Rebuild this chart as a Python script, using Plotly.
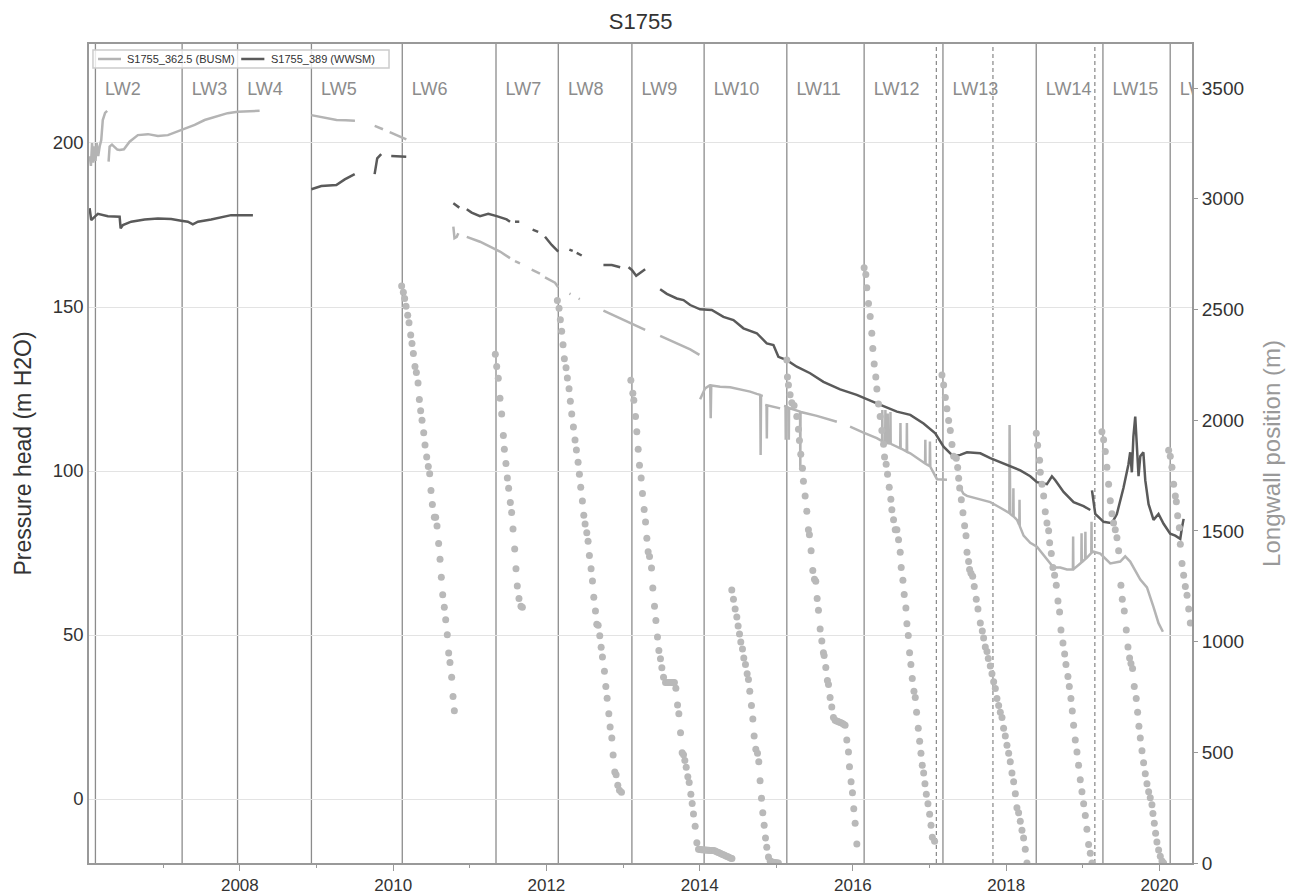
import datetime as dt
import plotly.graph_objects as go

# ---------------------------------------------------------------- data
# Piezometer S1755: pressure head (m H2O), time in decimal years, None = gap
BUSM_T = [2006.04, 2006.055, 2006.07, 2006.085, 2006.10, 2006.115, 2006.13, 2006.15, 2006.17, 2006.19,
          2006.21, 2006.24, 2006.267, None,
          2006.286, 2006.299, 2006.33, 2006.364, 2006.40, 2006.43, 2006.486, 2006.56, 2006.668, 2006.8,
          2006.93, 2007.06, 2007.17, 2007.256, 2007.41, 2007.54, 2007.67, 2007.84, 2007.97, 2008.10,
          2008.257, None,
          2008.93, 2009.06, 2009.26, 2009.38, 2009.50, None,
          2009.758, 2009.866, None, 2009.954, 2010.171, None,
          2010.785, 2010.80, 2010.829, 2010.85, None,
          2010.96, 2011.133, 2011.264, 2011.394, 2011.525, None,
          2011.59, 2011.655, None, 2011.808, 2011.916, None,
          2011.982, 2012.112, 2012.155, None, 2012.30, 2012.315, None, 2012.42, 2012.435, None,
          2012.743, 2012.961, 2013.091, 2013.287, None,
          2013.483, 2013.701, 2013.875, 2013.996, None,
          2014.005, 2014.04, 2014.07, 2014.136, 2014.143, 2014.15, 2014.266, 2014.397, 2014.527, 2014.658,
          2014.745, 2014.79, 2014.795, 2014.80, 2014.824, None,
          2014.854, 2014.872, 2014.876, 2014.88, 2015.05, None,
          2015.10, 2015.12, 2015.123, 2015.126, 2015.137, 2015.16, 2015.163, 2015.166, 2015.31, 2015.313,
          2015.316, 2015.529, 2015.70, 2015.79, None,
          2015.963, 2016.05, 2016.137, 2016.311, 2016.38, 2016.383, 2016.386, 2016.42, 2016.423, 2016.426,
          2016.45, 2016.453, 2016.456, 2016.486, 2016.489, 2016.492, 2016.616, 2016.619, 2016.622, 2016.70,
          2016.703, 2016.706, 2016.747, 2016.877, 2016.94, 2016.943, 2016.946, 2017.0, 2017.003, 2017.006,
          2017.008, 2017.095, 2017.226, None,
          2017.399, 2017.442, 2017.487, 2017.661, 2017.791, 2017.922, 2018.04, 2018.043, 2018.046, 2018.052,
          2018.09, 2018.093, 2018.096, 2018.14, 2018.17, 2018.173, 2018.176, 2018.226, 2018.313, 2018.4,
          2018.531, 2018.617, 2018.705, 2018.792, 2018.87, 2018.873, 2018.876, 2018.966, 2018.98, 2018.983,
          2018.986, 2019.03, 2019.033, 2019.036, 2019.054, 2019.11, 2019.113, 2019.116, 2019.14, 2019.227,
          2019.358, 2019.488, 2019.553, 2019.618, 2019.75, 2019.837, 2019.923, 2019.988, 2020.045]
BUSM_H = [196, 193, 200, 194, 199, 194.5, 200, 196, 199, 200.9,
          207, 209.2, 209.8, None,
          194.3, 198.9, 199.5, 198.9, 198.0, 197.9, 198.1, 200.4, 202.4, 202.7,
          202.1, 202.4, 203.3, 204.2, 205.5, 207.0, 208.0, 209.1, 209.5, 209.6,
          209.8, None,
          208.5, 208.0, 207.0, 206.9, 206.8, None,
          205.2, 204.2, None, 203.3, 201.1, None,
          174.5, 171.0, 171.4, 172.5, None,
          171.4, 169.9, 168.4, 166.9, 164.9, None,
          164.0, 163.3, None, 161.4, 160.2, None,
          159.0, 157.4, 156.0, None, 154.1, 153.9, None, 152.6, 152.4, None,
          148.9, 146.6, 145.2, 143.0, None,
          141.2, 138.9, 137.1, 135.4, None,
          121.9, 123.7, 125.2, 126.2, 116.1, 126.1, 125.7, 125.5, 124.9, 124.2,
          123.5, 123.2, 104.9, 123.0, 122.9, None,
          120.1, 120.0, 109.9, 120.0, 119.1, None,
          119.8, 119.7, 109.5, 119.6, 119.6, 119.3, 109.5, 119.2, 118.1, 100.3,
          118.0, 116.8, 115.5, 115.0, None,
          113.5, 112.5, 111.7, 110.0, 109.1, 118.6, 109.0, 108.7, 118.6, 108.6,
          108.5, 117.5, 108.5, 108.4, 118.0, 108.3, 106.9, 114.6, 106.9, 105.9,
          114.6, 105.8, 105.4, 103.4, 102.3, 109.5, 102.2, 101.5, 109.0, 101.4,
          101.3, 97.5, 97.3, None,
          94.8, 93.0, 92.4, 91.4, 90.5, 88.8, 87.2, 114.0, 87.1, 86.9,
          86.2, 94.7, 86.1, 85.1, 83.5, 91.2, 83.2, 80.3, 78.1, 76.9,
          73.0, 70.6, 70.6, 70.0, 70.0, 80.0, 70.0, 71.8, 72.1, 81.0,
          72.2, 73.1, 81.5, 73.2, 73.6, 75.0, 84.5, 75.1, 75.4, 74.8,
          71.8, 72.4, 74.0, 72.4, 66.9, 64.5, 58.5, 53.6, 51.0]

WWSM_T = [2006.038, 2006.059, 2006.103, 2006.146, 2006.277, 2006.43, 2006.443, 2006.473, 2006.581, 2006.757,
          2006.93, 2007.103, 2007.234, 2007.321, 2007.386, 2007.452, 2007.625, 2007.756, 2007.886, 2008.17, None,
          2008.931, 2009.061, 2009.257, 2009.367, 2009.497, None,
          2009.757, 2009.791, 2009.843, None, 2009.974, 2010.17, None,
          2010.785, 2010.863, None,
          2010.96, 2011.024, 2011.133, 2011.241, 2011.351, 2011.481, 2011.525, None,
          2011.59, 2011.646, None, 2011.82, 2011.893, None,
          2011.982, 2012.069, 2012.155, None, 2012.299, 2012.343, None, 2012.395, 2012.46, None,
          2012.743, 2012.852, 2012.961, None, 2013.07, 2013.113, 2013.17, 2013.287, None,
          2013.483, 2013.57, 2013.7, 2013.787, 2013.875, 2014.005, 2014.157, 2014.309, 2014.44, 2014.57,
          2014.745, 2014.875, 2014.962, 2015.027, 2015.137, 2015.267, 2015.441, 2015.615, 2015.833, 2016.05,
          2016.311, 2016.573, 2016.747, 2016.92, 2017.073, 2017.181, 2017.312, 2017.399, 2017.487, 2017.661,
          2017.791, 2017.922, 2018.052, 2018.183, 2018.313, 2018.4, 2018.531, 2018.596, 2018.64, 2018.748,
          2018.879, 2019.009, 2019.097, None,
          2019.119, 2019.162, 2019.27, 2019.38, 2019.444, 2019.53, 2019.595, 2019.618, 2019.64, 2019.66,
          2019.684, 2019.706, 2019.727, 2019.75, 2019.79, 2019.815, 2019.858, 2019.923, 2019.988, 2020.054,
          2020.14, 2020.206, 2020.271, 2020.293, 2020.315]
WWSM_H = [180.1, 176.5, 177.5, 178.4, 177.7, 177.5, 174.0, 175.0, 176.0, 176.7,
          177.0, 176.8, 176.3, 176.0, 175.2, 176.0, 176.7, 177.3, 178.0, 178.0, None,
          185.9, 186.9, 187.2, 188.9, 190.5, None,
          190.5, 195.3, 196.6, None, 196.0, 195.8, None,
          181.6, 180.3, None,
          179.8, 178.8, 177.7, 178.4, 177.7, 176.7, 176.0, None,
          176.0, 176.0, None, 173.6, 172.9, None,
          171.4, 168.9, 166.9, None, 167.5, 167.1, None, 166.5, 165.7, None,
          162.8, 162.8, 162.1, None, 162.1, 161.3, 159.5, 161.5, None,
          155.4, 154.0, 152.6, 152.1, 150.6, 149.3, 149.1, 147.0, 146.0, 143.5,
          142.0, 138.9, 138.4, 134.8, 133.8, 131.8, 129.8, 127.2, 124.9, 123.2,
          120.6, 118.1, 117.1, 114.5, 111.5, 107.4, 104.4, 104.9, 105.7, 105.4,
          103.9, 102.6, 101.4, 100.2, 98.4, 96.6, 96.0, 98.4, 97.2, 93.6,
          90.5, 89.3, 88.1, None,
          94.1, 86.9, 84.5, 84.1, 86.9, 94.8, 102.0, 105.7, 99.6, 110.5,
          116.6, 106.9, 98.4, 104.5, 105.7, 97.2, 89.9, 85.1, 86.9, 83.9,
          80.9, 80.3, 79.3, 82.7, 85.4]

# Longwall face position (m), weekly survey per panel
LW6_T = [2010.110, 2010.132, 2010.149, 2010.167, 2010.189, 2010.206, 2010.228, 2010.245, 2010.263, 2010.284,
         2010.302, 2010.324, 2010.341, 2010.358, 2010.376, 2010.398, 2010.415, 2010.437, 2010.458, 2010.476,
         2010.493, 2010.511, 2010.537, 2010.554, 2010.572, 2010.593, 2010.611, 2010.628, 2010.646, 2010.667,
         2010.685, 2010.706, 2010.724, 2010.741, 2010.763, 2010.781, 2010.798]
LW6_POS = [2606, 2578, 2549, 2514, 2474, 2440, 2384, 2346, 2301, 2242,
           2215, 2168, 2093, 2042, 2000, 1943, 1888, 1834, 1791, 1758,
           1682, 1619, 1562, 1562, 1522, 1443, 1372, 1290, 1211, 1155,
           1098, 1031, 948, 905, 839, 752, 688]

LW7_T = [2011.333, 2011.351, 2011.372, 2011.394, 2011.416, 2011.438, 2011.451, 2011.472, 2011.490, 2011.507,
         2011.529, 2011.546, 2011.564, 2011.586, 2011.603, 2011.620, 2011.642, 2011.668, 2011.686]
LW7_POS = [2298, 2242, 2189, 2099, 2028, 1931, 1868, 1804, 1739, 1692,
           1628, 1583, 1508, 1418, 1329, 1251, 1194, 1159, 1155]

LW8_T = [2012.143, 2012.165, 2012.182, 2012.199, 2012.217, 2012.234, 2012.256, 2012.273, 2012.295, 2012.312,
         2012.330, 2012.352, 2012.373, 2012.391, 2012.413, 2012.430, 2012.447, 2012.469, 2012.487, 2012.504,
         2012.526, 2012.543, 2012.560, 2012.582, 2012.600, 2012.617, 2012.639, 2012.656, 2012.674, 2012.695,
         2012.713, 2012.730, 2012.756, 2012.774, 2012.791, 2012.813, 2012.830, 2012.852, 2012.869, 2012.891,
         2012.908, 2012.930, 2012.952, 2012.978]
LW8_POS = [2540, 2505, 2453, 2401, 2341, 2277, 2237, 2190, 2142, 2085,
           2028, 1969, 1910, 1865, 1810, 1756, 1697, 1635, 1571, 1531,
           1491, 1453, 1389, 1329, 1273, 1200, 1138, 1078, 1074, 1026,
           974, 930, 866, 797, 744, 674, 614, 564, 488, 411,
           398, 351, 328, 320]

LW9_T = [2013.100, 2013.126, 2013.139, 2013.161, 2013.178, 2013.196, 2013.213, 2013.235, 2013.252, 2013.274,
         2013.292, 2013.309, 2013.326, 2013.344, 2013.370, 2013.387, 2013.409, 2013.427, 2013.448, 2013.466,
         2013.487, 2013.505, 2013.527, 2013.553, 2013.572, 2013.592, 2013.611, 2013.630, 2013.649, 2013.669,
         2013.688, 2013.710, 2013.727, 2013.749, 2013.770, 2013.788, 2013.805, 2013.823, 2013.844, 2013.862,
         2013.884, 2013.901, 2013.918, 2013.940, 2013.962, 2013.984, 2014.003, 2014.022, 2014.041, 2014.061,
         2014.080, 2014.099, 2014.118, 2014.138, 2014.157, 2014.176, 2014.195, 2014.214, 2014.234, 2014.253,
         2014.272, 2014.291, 2014.310, 2014.330, 2014.349, 2014.368, 2014.387, 2014.406, 2014.420]
LW9_POS = [2180, 2121, 2090, 2016, 1948, 1869, 1796, 1739, 1669, 1597,
           1540, 1467, 1406, 1384, 1332, 1242, 1159, 1095, 1021, 960,
           922, 882, 839, 815, 815, 815, 815, 815, 815, 815,
           789, 714, 674, 588, 498, 489, 463, 432, 389, 363,
           311, 269, 221, 166, 91, 62, 61, 60, 60, 59,
           59, 58, 58, 57, 57, 56, 55, 52, 49, 46,
           43, 40, 37, 34, 31, 28, 25, 22, 20]

LW10_T = [2014.418, 2014.440, 2014.462, 2014.484, 2014.501, 2014.519, 2014.536, 2014.558, 2014.575, 2014.597,
          2014.619, 2014.636, 2014.653, 2014.675, 2014.693, 2014.710, 2014.732, 2014.754, 2014.771, 2014.788,
          2014.806, 2014.823, 2014.841, 2014.858, 2014.875, 2014.897, 2014.919, 2014.940, 2014.962, 2014.984,
          2015.005, 2015.027]
LW10_POS = [1233, 1191, 1147, 1111, 1070, 1034, 998, 967, 926, 896,
            855, 829, 776, 711, 650, 573, 514, 496, 457, 371,
            292, 227, 170, 113, 71, 27, 10, 5, 3, 2,
            1, 0]

LW11_T = [2015.137, 2015.145, 2015.158, 2015.180, 2015.202, 2015.232, 2015.267, 2015.289, 2015.302, 2015.319,
          2015.341, 2015.354, 2015.376, 2015.398, 2015.419, 2015.432, 2015.454, 2015.476, 2015.498, 2015.515,
          2015.533, 2015.550, 2015.572, 2015.594, 2015.615, 2015.624, 2015.646, 2015.667, 2015.681, 2015.702,
          2015.724, 2015.746, 2015.768, 2015.787, 2015.806, 2015.825, 2015.845, 2015.864, 2015.883, 2015.898,
          2015.920, 2015.942, 2015.955, 2015.976, 2015.994, 2016.011, 2016.029, 2016.051]
LW11_POS = [2272, 2195, 2159, 2115, 2079, 2066, 2016, 1959, 1908, 1846,
            1783, 1724, 1657, 1589, 1505, 1482, 1410, 1321, 1281, 1272,
            1195, 1141, 1057, 1003, 949, 937, 883, 824, 806, 747,
            704, 657, 645, 641, 639, 636, 633, 630, 626, 622,
            555, 501, 435, 367, 317, 245, 179, 86]

LW12_T = [2016.146, 2016.168, 2016.181, 2016.203, 2016.225, 2016.246, 2016.259, 2016.277, 2016.298, 2016.312,
          2016.333, 2016.355, 2016.377, 2016.399, 2016.412, 2016.433, 2016.451, 2016.473, 2016.494, 2016.507,
          2016.529, 2016.551, 2016.573, 2016.594, 2016.616, 2016.629, 2016.651, 2016.668, 2016.690, 2016.703,
          2016.721, 2016.738, 2016.755, 2016.773, 2016.795, 2016.812, 2016.829, 2016.851, 2016.869, 2016.886,
          2016.903, 2016.921, 2016.938, 2016.956, 2016.977, 2016.999, 2017.017, 2017.034, 2017.064]
LW12_POS = [2688, 2658, 2598, 2527, 2468, 2392, 2324, 2253, 2195, 2141,
            2073, 2016, 1953, 1891, 1833, 1801, 1756, 1697, 1643, 1595,
            1550, 1505, 1505, 1460, 1403, 1335, 1277, 1213, 1152, 1080,
            1027, 949, 896, 833, 776, 747, 681, 609, 550, 496,
            442, 406, 358, 310, 268, 220, 170, 116, 98]

LW13_T = [2017.160, 2017.182, 2017.204, 2017.225, 2017.247, 2017.269, 2017.291, 2017.313, 2017.347, 2017.365,
          2017.378, 2017.391, 2017.413, 2017.434, 2017.456, 2017.474, 2017.487, 2017.508, 2017.521, 2017.539,
          2017.561, 2017.582, 2017.608, 2017.630, 2017.661, 2017.687, 2017.704, 2017.726, 2017.748, 2017.765,
          2017.791, 2017.813, 2017.835, 2017.857, 2017.878, 2017.900, 2017.922, 2017.944, 2017.965, 2017.987,
          2018.009, 2018.031, 2018.052, 2018.074, 2018.096, 2018.118, 2018.139, 2018.161, 2018.183, 2018.205,
          2018.226, 2018.248, 2018.270]
LW13_POS = [2204, 2159, 2102, 2052, 1998, 1953, 1890, 1837, 1828, 1786,
            1738, 1693, 1640, 1582, 1523, 1478, 1403, 1362, 1326, 1308,
            1295, 1249, 1191, 1147, 1084, 1048, 1016, 976, 955, 923,
            890, 855, 819, 788, 743, 711, 681, 657, 609, 573,
            532, 496, 457, 406, 367, 313, 250, 227, 188, 148,
            113, 62, 0]

LW14_T = [2018.392, 2018.409, 2018.435, 2018.444, 2018.466, 2018.488, 2018.509, 2018.531, 2018.553, 2018.566,
          2018.588, 2018.609, 2018.631, 2018.653, 2018.675, 2018.696, 2018.714, 2018.740, 2018.762, 2018.779,
          2018.805, 2018.823, 2018.844, 2018.862, 2018.879, 2018.901, 2018.923, 2018.944, 2018.966, 2018.988,
          2019.010, 2019.032, 2019.053, 2019.075, 2019.097, 2019.119]
LW14_POS = [1941, 1887, 1819, 1765, 1711, 1657, 1586, 1536, 1500, 1446,
            1398, 1335, 1299, 1254, 1183, 1134, 1052, 994, 944, 896,
            842, 797, 743, 686, 622, 555, 501, 442, 376, 322,
            268, 215, 152, 84, 44, 0]

LW15_T = [2019.249, 2019.271, 2019.293, 2019.314, 2019.336, 2019.358, 2019.380, 2019.401, 2019.423, 2019.445,
          2019.467, 2019.497, 2019.515, 2019.541, 2019.567, 2019.589, 2019.610, 2019.628, 2019.649, 2019.671,
          2019.697, 2019.715, 2019.732, 2019.750, 2019.772, 2019.793, 2019.815, 2019.837, 2019.859, 2019.880,
          2019.902, 2019.915, 2019.933, 2019.950, 2019.967, 2019.989, 2020.011, 2020.033, 2020.054]
LW15_POS = [1948, 1912, 1858, 1787, 1711, 1636, 1577, 1536, 1505, 1469,
            1410, 1254, 1191, 1138, 1052, 976, 926, 901, 878, 797,
            743, 681, 618, 564, 507, 453, 403, 358, 322, 295,
            263, 224, 179, 134, 95, 59, 30, 9, 0]

LW16_T = [2020.120, 2020.141, 2020.163, 2020.185, 2020.207, 2020.220, 2020.237, 2020.259, 2020.272, 2020.294,
          2020.315, 2020.337, 2020.359, 2020.381, 2020.402]
LW16_POS = [1864, 1837, 1787, 1711, 1657, 1631, 1568, 1514, 1439, 1353,
            1299, 1249, 1209, 1147, 1084]

# Longwall panel start dates and extra event markers (decimal years)
LW_NAMES = ["LW2", "LW3", "LW4", "LW5", "LW6", "LW7", "LW8", "LW9", "LW10", "LW11",
            "LW12", "LW13", "LW14", "LW15", "LW16"]
LW_START = [2006.114, 2007.246, 2007.970, 2008.932, 2010.118, 2011.342, 2012.155, 2013.114, 2014.057, 2015.137,
            2016.146, 2017.173, 2018.391, 2019.262, 2020.140]
EVENTS = [2017.086, 2017.826, 2019.157]

LEFT_TICKS = [0, 50, 100, 150, 200]
RIGHT_TICKS = [0, 500, 1000, 1500, 2000, 2500, 3000, 3500]

SERIES_NAMES = ["S1755_362.5 (BUSM)", "S1755_389 (WWSM)"]


# ---------------------------------------------------------------- helpers
def to_date(y):
    if y is None:
        return None
    year = int(y)
    start = dt.datetime(year, 1, 1)
    end = dt.datetime(year + 1, 1, 1)
    return start + (end - start) * (y - year)


def dates(seq):
    return [to_date(v) for v in seq]


FONT = "Liberation Sans, Arial, sans-serif"
C_LIGHT = "#b4b4b4"
C_DARK = "#5a5a5a"
C_DOT = "#b9b9b9"
C_VLINE = "#8c8c8c"
SERIES_COLORS = [C_LIGHT, C_DARK]

fig = go.Figure()

fig.add_trace(go.Scatter(x=dates(BUSM_T), y=BUSM_H, mode="lines", name=SERIES_NAMES[0], showlegend=False,
                         line=dict(color=C_LIGHT, width=2.5), connectgaps=False))
fig.add_trace(go.Scatter(x=dates(WWSM_T), y=WWSM_H, mode="lines", name=SERIES_NAMES[1], showlegend=False,
                         line=dict(color=C_DARK, width=2.5), connectgaps=False))

panels = [(LW6_T, LW6_POS), (LW7_T, LW7_POS), (LW8_T, LW8_POS), (LW9_T, LW9_POS), (LW10_T, LW10_POS),
          (LW11_T, LW11_POS), (LW12_T, LW12_POS), (LW13_T, LW13_POS), (LW14_T, LW14_POS),
          (LW15_T, LW15_POS), (LW16_T, LW16_POS)]
for t, p in panels:
    fig.add_trace(go.Scatter(x=dates(t), y=p, yaxis="y2", mode="markers", showlegend=False,
                             marker=dict(color=C_DOT, size=7, line=dict(width=0)), cliponaxis=True))

# panel names just right of each start line
fig.add_trace(go.Scatter(x=[to_date(v + 0.125) for v in LW_START], y=[216.0] * len(LW_START),
                         mode="text", text=LW_NAMES, textposition="middle right", showlegend=False,
                         textfont=dict(family=FONT, size=18, color="#8c8c8c"), cliponaxis=True,
                         hoverinfo="skip"))

shapes = []
for v in LW_START:
    shapes.append(dict(type="line", xref="x", yref="paper", x0=to_date(v), x1=to_date(v), y0=0, y1=1,
                       line=dict(color=C_VLINE, width=1.3), layer="between"))
for v in EVENTS:
    shapes.append(dict(type="line", xref="x", yref="paper", x0=to_date(v), x1=to_date(v), y0=0, y1=1,
                       line=dict(color="#6e6e6e", width=1, dash="4px,3px"), layer="between"))

# compact legend box in the upper-left corner of the axes
shapes.append(dict(type="rect", xref="paper", yref="paper", x0=0.0036, x1=0.272, y0=0.9707, y1=0.9927,
                   line=dict(color="#cccccc", width=1.5), fillcolor="rgba(255,255,255,0.8)", layer="above"))
annotations = []
legend_x = [(0.0082, 0.0290, 0.0330), (0.1380, 0.1590, 0.1630)]
for (lx0, lx1, tx), name, col in zip(legend_x, SERIES_NAMES, SERIES_COLORS):
    shapes.append(dict(type="line", xref="paper", yref="paper", x0=lx0, x1=lx1, y0=0.9817, y1=0.9817,
                       line=dict(color=col, width=2.5), layer="above"))
    annotations.append(dict(xref="paper", yref="paper", x=tx, y=0.9817, xanchor="left", yanchor="middle",
                            text=name, showarrow=False, font=dict(family=FONT, size=11, color="#333333")))

# left axis title
annotations.append(dict(xref="paper", yref="paper", x=-0.0607, y=0.5, xanchor="center", yanchor="middle",
                        text="Pressure head (m H2O)", textangle=-90, showarrow=False,
                        font=dict(family=FONT, size=23, color="#333333")))

fig.update_layout(
    width=1302, height=896,
    margin=dict(l=89, r=110, t=44, b=33),
    paper_bgcolor="white", plot_bgcolor="white",
    font=dict(family=FONT, size=18, color="#333333"),
    title=dict(text="S1755", x=0.492, xanchor="center", y=0.976, yanchor="middle",
               font=dict(size=22, color="#333333")),
    shapes=shapes,
    annotations=annotations,
    showlegend=False,
    xaxis=dict(type="date", range=[to_date(2006.03), to_date(2020.424)], automargin=False,
               tickformat="%Y", dtick="M24", tick0="2008-01-01",
               ticks="outside", ticklen=6, tickcolor="#999999", tickwidth=1,
               minor=dict(dtick="M12", tick0="2007-01-01", ticks="outside", ticklen=3,
                          tickcolor="#999999", showgrid=False),
               showgrid=False, showline=True, linecolor="#999999", linewidth=1.5, mirror=True,
               zeroline=False, tickfont=dict(size=17, color="#333333")),
    yaxis=dict(range=[-19.51, 230.18], tickvals=LEFT_TICKS, showgrid=True, gridcolor="#e3e3e3",
               gridwidth=1, zeroline=False, showline=True, linecolor="#999999", linewidth=1.5,
               mirror=True, ticks="", tickfont=dict(size=18.5, color="#333333"), automargin=False),
    yaxis2=dict(range=[0, 3698.7], tickvals=RIGHT_TICKS, overlaying="y", side="right",
                showgrid=False, zeroline=False, showline=False, ticks="outside", ticklen=5,
                tickcolor="#999999", tickfont=dict(size=19, color="#333333"), automargin=False,
                title=dict(text="Longwall position (m)", font=dict(size=24, color="#999999"), standoff=20)),
)

fig.write_html("out.html")
